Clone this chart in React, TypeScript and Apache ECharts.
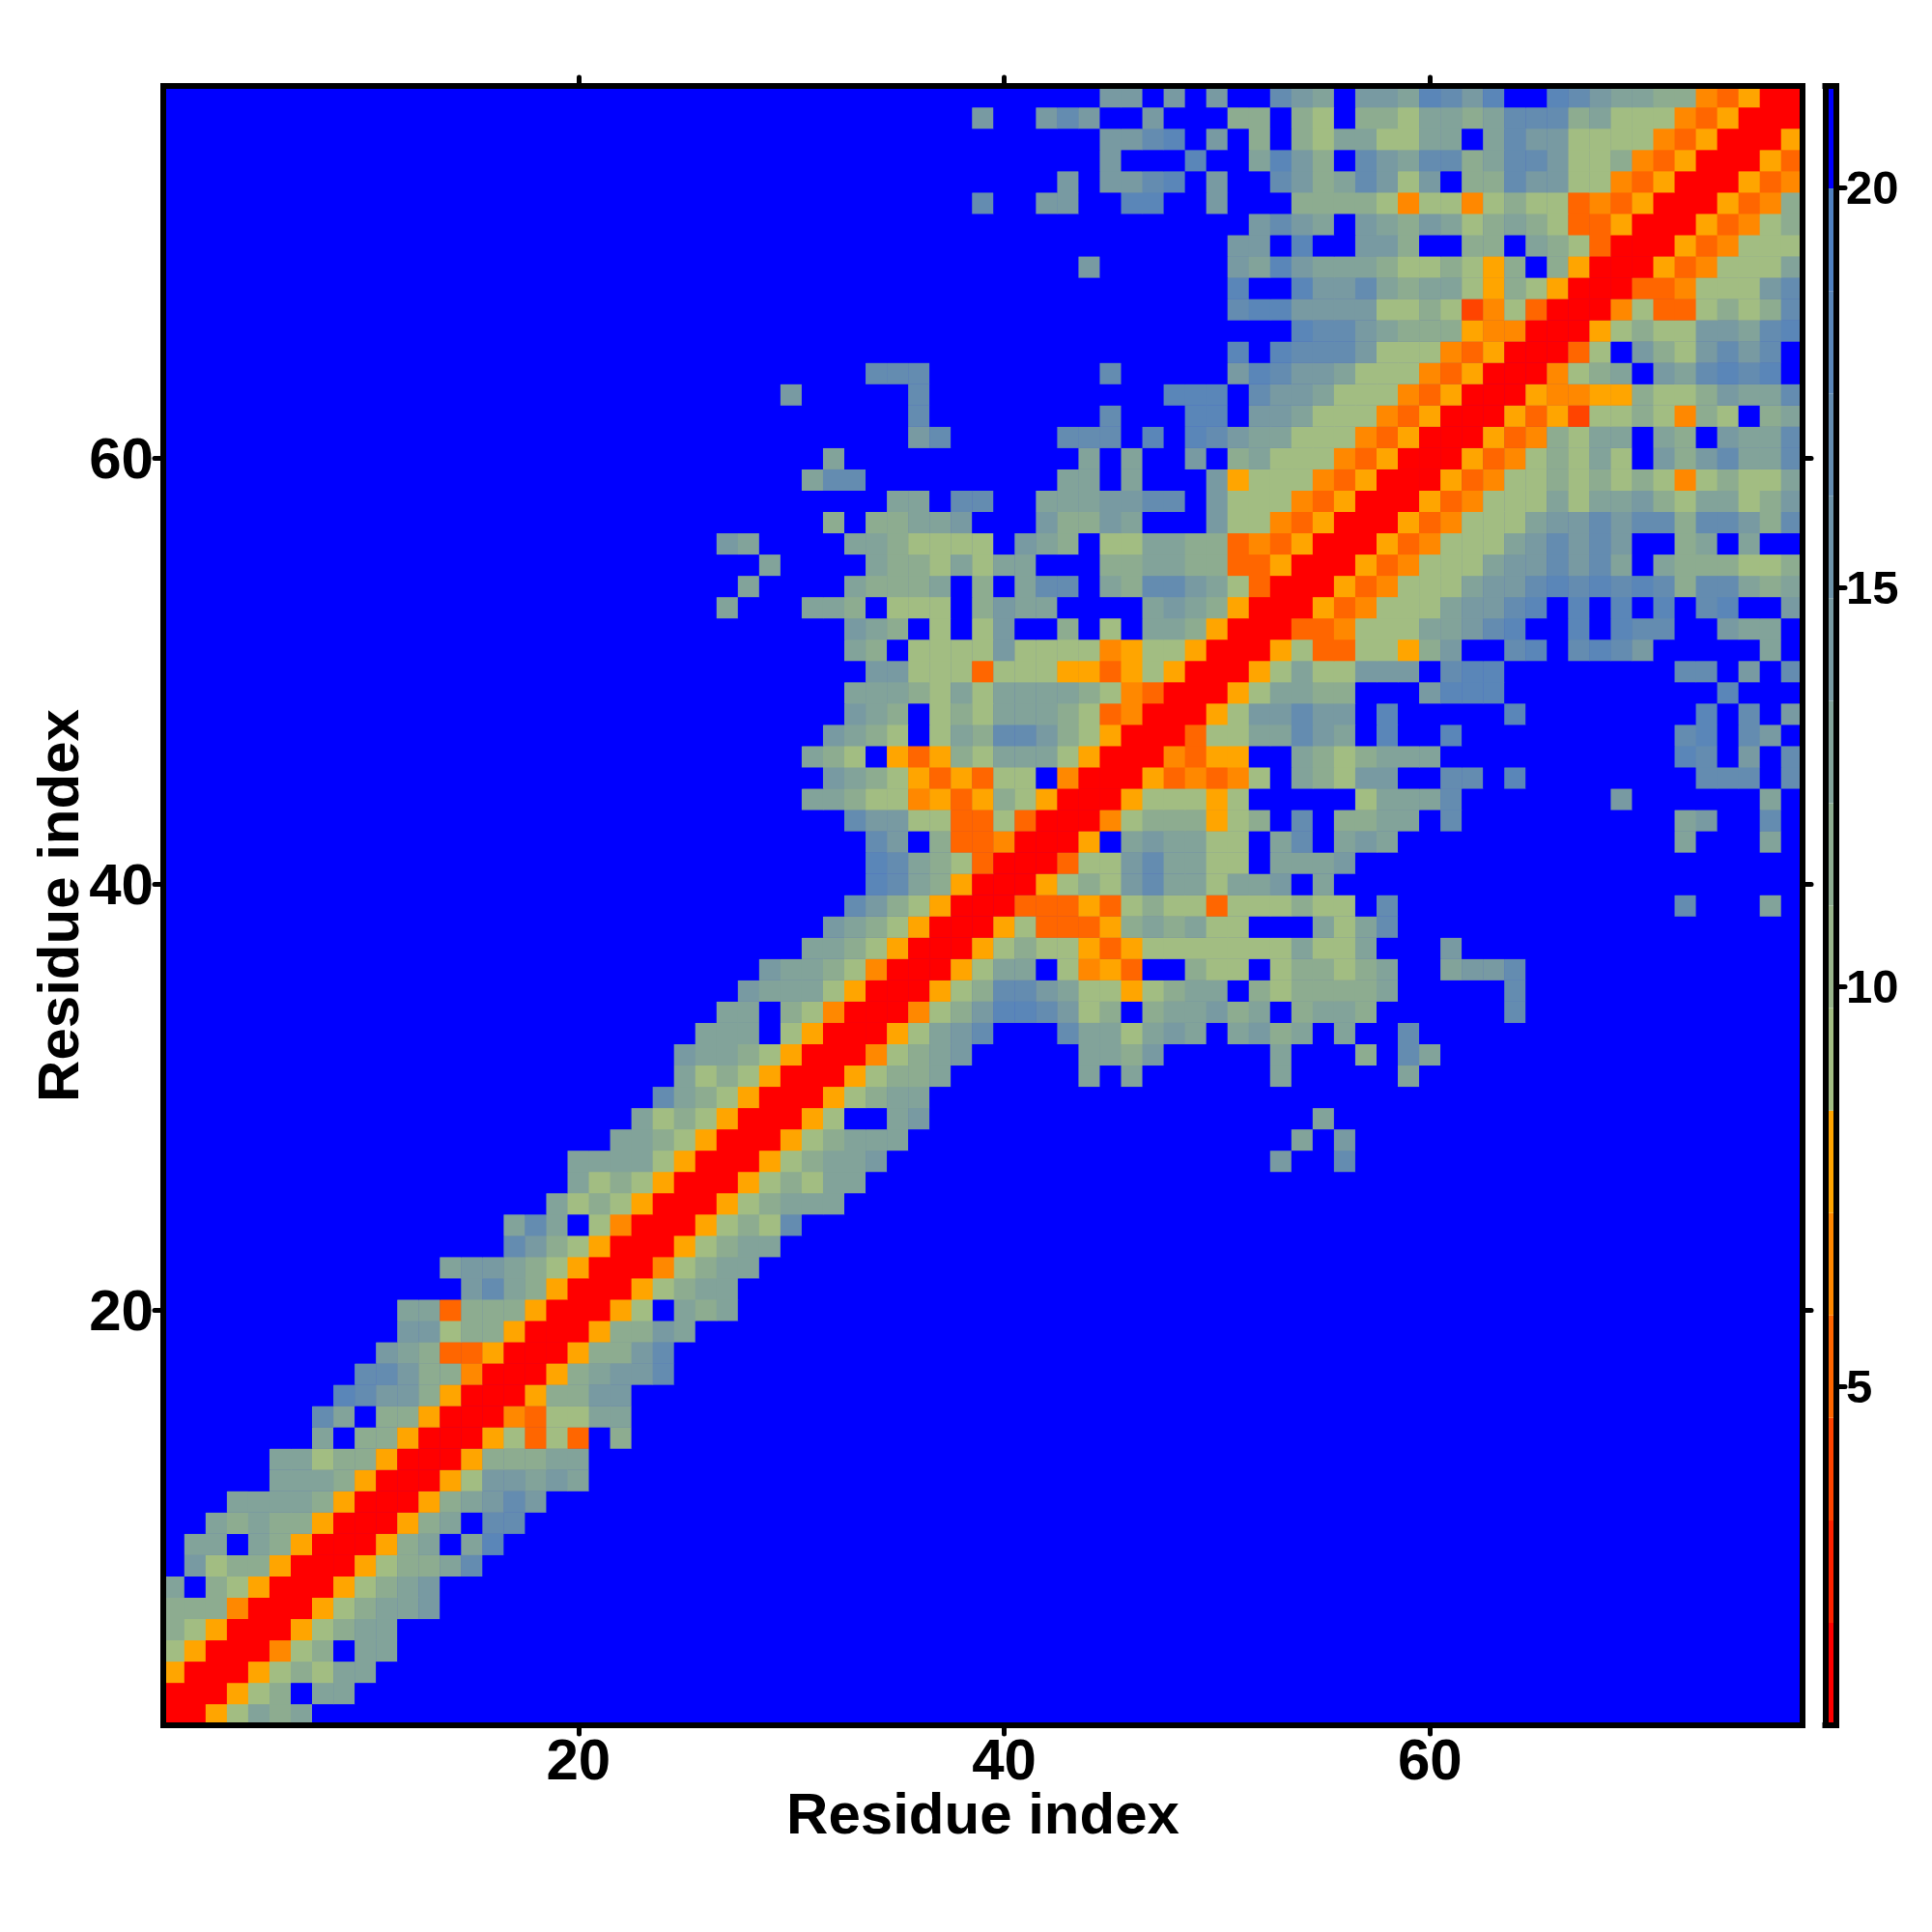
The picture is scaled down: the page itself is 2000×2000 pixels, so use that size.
import React, { useEffect, useRef } from "react";
import * as echarts from "echarts";

// Residue indices 1..77 on both axes.
const residues: string[] = Array.from({ length: 77 }, (_, i) => String(i + 1));
const tickResidues = [20, 40, 60];
const colorbarTicks = [5, 10, 15, 20];
const xTitle = "Residue index";
const yTitle = "Residue index";

// Colour scale: 16 equal bands from scaleMin to scaleMax.
const scaleMin = 0.76;
const scaleMax = 21.27;
const bandColors = [
  "#ff0000", "#ff2200", "#ff4400", "#ff6600", "#ff8800", "#ffa500",
  "#a2bd82", "#98b48a", "#8dac90", "#82a39a", "#789aa2", "#6d93a9",
  "#648cb0", "#5a86b8", "#4f80c0", "#0000ff",
];

// Symbol read from a cell's colour -> band index; cells not listed are band 15 (blue).
const bandOfSymbol: Record<string, number> = {
  "0": 0, "1": 1, "2": 2, "3": 3, "4": 4, "5": 5,
  "7": 6, "8": 8, "9": 9, a: 10, b: 12, c: 13, ".": 15,
};

// One entry per matrix row, from row 1 upward: "startColumn:symbols|startColumn:symbols".
const matrixRows: string[] = [
  "1:0057989",
  "1:000578.99",
  "1:5000578799",
  "1:75000478.99",
  "1:87500057899",
  "1:888400057899a",
  "1:9.875000578 9a",
  "2:a7885000 5 7 8 8 9 b",
  "2:99.985000 5 8 9 . 9 c",
  "3:98988 5000 5 8 9 . b b",
  "4:99998 5000 5 8 9 a b a",
  "6:9998 5000 5 7 a a 9 a 9",
  "6:99788 5000 5 8 8 8 9 9",
  "8:9.88 5000 5 7 3 7 3 . 8",
  "8:b9.88 5000 4 3 7 7 9 9",
  "9:cbaa8 5000 5 8 8 a a",
  "10:bba88 4000 5 8 9 a a b",
  "11:a98 33 5000 5 8 8 a b",
  "12:aa788 5000 5 8 8 a 9",
  "12:9938885000 5 7 . 9 8 9",
  "15:ab98 5000 5 7 8 9 9",
  "14:9aa98 7 5000 4 7 8 9 9",
  "17:ba87 5000 5 7 8 9 9",
  "17:9b9.74000 5 7 8 7 b",
  "19:9787 5000 5 7 8 9 9 9",
  "20:9787 5000 5 7 8 7 9 9",
  "20:99997 5000 5 7 8 9 9 a|53:a|56:b",
  "22:9987 5000 5 7 8 9 9 9|54:9|56:a",
  "23:9787 5000 5 7 . . 9 a|55:9",
  "24:b987 5000 5 7 8 9 9",
  "25:9787 5000 5 7 8 8 9|44:9.9|53:9|59:9",
  "25:a9987 5000 4 7 8 9 a|44:998a|53:9|57:8|59:b9",
  "26:999.7 5000 5 7 9 a b|43:b9979a9.9a89.9..b",
  "27:99.87 4000 4 7 8 a|40:ccba78.899a89.8998|64:b",
  "28:a9997 5000 5 7 8|40:bba9775 7899.87 88889|64:b",
  "29:a9987 4000 5 7|40:99.7453..877.78878 9..9a|63:ab",
  "31:9987 5000 5|40:78775 35 7777777 977 9...a",
  "32:a987 5000|40:57 333 5 8989 77...979b",
  "33:ba87 500|40:0 333 5 3 7877 3 777877.b|72:b|76:9",
  "34:cb985 0|40:00 5 787 ab99 7 99a.9",
  "34:cb9873|40:000 3 77ab99 77.999a",
  "34:ba.833|40:4 000 5 .9a99 77.9b.9a9|72:9|76:9",
  "33:baa7733|40:73 000 4 7888 5 78.b.8899.b|72:9a|76:b",
  "31:99877 4535|40:875 000 5 777 57 ..... 7999b|69:a|76:9",
  "32:a98753537 7.4 000|47:53 4 3 4 7.987aa..bb.c|73:bbb.b",
  "31:987.5358 7 999 7 5 00|47:0 4 3 5 5..987 8999|72:cb.a.b",
  "32:a987.7 98bba87 5 0|47:003 77 99ba9.c..c|72:bc.ba",
  "33:a98.787 999 87 34|47:000 5 7aabaa.c.....c|73:c.b.a",
  "33:99987979 99987 43|47:3000 5 79988...accc|74:c",
  "34:aa777 3 777 55 35|47:75 000 5 79 77 aaa.bcc|72:bb.a.b",
  "33:98.7777a7777 45|47:775 000 5 7 33 77 58a..bc.bcb|70:a|76:9",
  "33:a98.7.7a..8.7.|47:9985 000 33 4 777 99abc..c.c|70:bb..a99.",
  "27:9|31:998.777.8a99|47:9a985 000 5 3 4 777 9aabc.c.c|70:.c.bc..a",
  "28:9|33:9888 9.8.9bb.98|47:bba97 3 000 5 3 4 777 9aabcbcb|70:cb8bb989",
  "29:9|34:98879799...88|47:9988 33 5 000 5 3 4 777 9aabab9|70:.9888778",
  "27:a9|33:99877 77.a98.77|47:9988 3 4 3 5 000 5 3 4 777 9abab a|70:..89.9..",
  "32:8.8899a...a88a9|50:a77 4 3 5 000 5 3 4 777 9aaba|70:bb8bba8b",
  "35:99.bb..999aa|47:bb.a 777 4 3 5 000 5 3 4 777 9799|70:a8799 78a",
  "31:9bb|43:99.9|50:a5 777 4 3 5 000 5 3 4 77 8 7 8 7|70:8 7 4 7 8 7 7 9",
  "32:9|44:9.9|49:a.89 777 4 3 5 000 5 3 4 7 8 7 9 7|70:.a8ab99b",
  "36:ab|43:bbb|47:c.cba99 777 4 3 5 000 5 3 4 8 7 9 9|70:.98.a99b",
  "36:b|45:b|49:cc.aa9 777 4 3 5 000 5 3 5 2 7 7|70:8748 7.89",
  "30:a|36:b|48:ccc.baa9 777 4 3 5 000 5 4 4 5 5|70:8778a99b",
  "34:bbb|45:b|51:acbaa9 777 4 3 5 000 4 7 8 9|70:.a9bcbc.",
  "51:c.cbbba 777 4 3 5 000 3 7 .|70:a87aba b.",
  "54:cbba98 88 5 4 4 000 5 7|70:877aa9bc",
  "51:bccaaaa 778 7 2 4 7 3 000 4|70:7 3 3 7 8 7 8 b",
  "51:c..caab9899 7 5 8 7 5 000 3 3 4 777 ab",
  "44:a|51:a9ca999 8 77 8 7 5 8 . 8 5 000 5 3 4 777 9",
  "51:aa.c..aa8..88.987 3 000 5 3 4 777",
  "52:aba9.a98a97 8 9 8 7 33 5 000 5 3 4 7 8",
  "39:b|42:aa|46:cc..a...8888 7 4 77 4 7 8 77 3 4 3 5 000 5 3 4 8",
  "43:a.aabc.a..ba89ba7a.88baa 77 4 3 5 000 5 3 4",
  "45:a...c..9ca8.ba9bb89bba 77 8 4 3 5 000 5 3",
  "45:aabc.a.8.8799 77 99.9baa 7777 4 3 5 000 5",
  "39:a|42:aba|47:a|51:88.87.8879989bbb89 777 4 3 5 000",
  "45:aa.a.a..ba9.aa9cbac..cba9988 4 3 5 00",
];

function buildCells(): [number, number, number][] {
  const step = (scaleMax - scaleMin) / bandColors.length;
  const grid: number[][] = residues.map(() => residues.map(() => 15));
  matrixRows.forEach((text, r) => {
    text.split("|").forEach((segment) => {
      const [start, symbols] = segment.split(":");
      const compact = symbols.replace(/\s/g, "");
      for (let i = 0; i < compact.length; i++) {
        const col = Number(start) - 1 + i;
        if (col < 77) grid[r][col] = bandOfSymbol[compact[i]];
      }
    });
  });
  const cells: [number, number, number][] = [];
  grid.forEach((row, r) =>
    row.forEach((band, c) => cells.push([c, r, scaleMin + (band + 0.5) * step]))
  );
  return cells;
}

const isTick = (_: number, value: string) => tickResidues.includes(Number(value));

export default function App() {
  const ref = useRef<HTMLDivElement>(null);
  useEffect(() => {
    document.body.style.margin = "0";
    const chart = echarts.init(ref.current!, undefined, { renderer: "svg" });
    const step = (scaleMax - scaleMin) / bandColors.length;
    const bands = bandColors.map((_, i) => [scaleMin + i * step, scaleMin + (i + 1) * step]);
    const black = "#000";
    const font = "'Liberation Sans', Arial, sans-serif";
    const line = { show: true, onZero: false, lineStyle: { color: black, width: 6, cap: "square" } };
    const tick = {
      show: true, alignWithLabel: true, interval: isTick, length: 9, inside: false,
      lineStyle: { color: black, width: 5, cap: "round" },
    };
    const label = { fontFamily: font, fontWeight: "bold", fontSize: 60, color: black };
    const nameStyle = { fontFamily: font, fontWeight: "bold", fontSize: 60, color: black };
    const blank = { axisLabel: { show: false }, axisTick: { show: false }, splitLine: { show: false } };
    chart.setOption({
      animation: false,
      backgroundColor: "#fff",
      grid: [
        { left: 169, top: 89, width: 1697, height: 1697, show: true, backgroundColor: "#0000ff", borderWidth: 0, outerBoundsMode: "none" },
        { left: 1889.5, top: 89, width: 11.5, height: 1697, show: false, outerBoundsMode: "none" },
      ],
      xAxis: [
        {
          type: "category", gridIndex: 0, data: residues, position: "bottom", z: 5,
          axisLine: line, axisTick: tick, splitLine: { show: false },
          axisLabel: { ...label, interval: isTick, margin: 5 },
          name: xTitle, nameLocation: "middle", nameGap: 61, nameMoveOverlap: false, nameTextStyle: nameStyle,
        },
        {
          type: "category", gridIndex: 0, data: residues, position: "top", z: 5,
          axisLine: line, axisTick: tick, axisLabel: { show: false }, splitLine: { show: false },
        },
        { type: "value", gridIndex: 1, min: 0, max: 1, position: "bottom", z: 5, axisLine: line, ...blank },
        { type: "value", gridIndex: 1, min: 0, max: 1, position: "top", z: 5, axisLine: line, ...blank },
      ],
      yAxis: [
        {
          type: "category", gridIndex: 0, data: residues, position: "left", z: 5,
          axisLine: line, axisTick: tick, splitLine: { show: false },
          axisLabel: { ...label, interval: isTick, margin: 10 },
          name: yTitle, nameLocation: "middle", nameGap: 79, nameMoveOverlap: false, nameRotate: 90, nameTextStyle: nameStyle,
        },
        {
          type: "category", gridIndex: 0, data: residues, position: "right", z: 5,
          axisLine: line, axisTick: tick, axisLabel: { show: false }, splitLine: { show: false },
        },
        {
          type: "value", gridIndex: 1, min: scaleMin, max: scaleMax, position: "right", z: 5,
          axisLine: line, splitLine: { show: false },
          axisTick: {
            show: true, customValues: colorbarTicks, length: 9,
            lineStyle: { color: black, width: 5, cap: "round" },
          },
          axisLabel: { ...label, fontSize: 49, margin: 10, customValues: colorbarTicks, formatter: (v: number) => String(v) },
        },
        { type: "value", gridIndex: 1, min: scaleMin, max: scaleMax, position: "left", z: 5, axisLine: line, ...blank },
      ],
      visualMap: {
        type: "piecewise", show: false, seriesIndex: 0, dimension: 2,
        pieces: bands.map(([lo, hi], i) => ({ gte: lo, lt: hi, color: bandColors[i] })),
      },
      series: [
        {
          type: "heatmap", xAxisIndex: 0, yAxisIndex: 0, data: buildCells(),
          emphasis: { disabled: true }, progressive: 0, itemStyle: { borderWidth: 0 },
        },
        {
          type: "custom", xAxisIndex: 2, yAxisIndex: 2, data: bands, encode: { y: [0, 1] },
          renderItem: (params: any, api: any) => {
            const a = api.coord([0, api.value(0)]);
            const b = api.coord([1, api.value(1)]);
            return {
              type: "rect",
              shape: { x: a[0], y: b[1], width: b[0] - a[0], height: a[1] - b[1] },
              style: { fill: bandColors[params.dataIndex] },
            };
          },
        },
      ],
    });
    return () => chart.dispose();
  }, []);
  return <div ref={ref} style={{ position: "absolute", left: 0, top: 0, width: 2000, height: 2000 }} />;
}
